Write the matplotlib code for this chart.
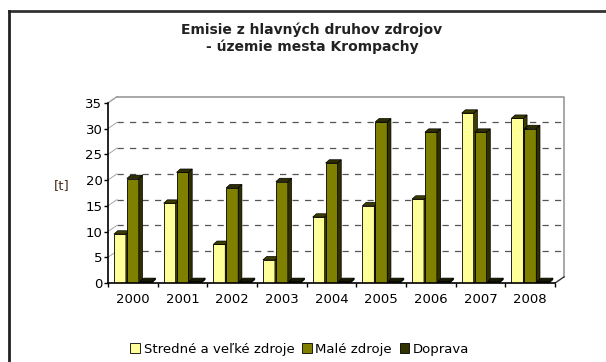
import numpy as np
import matplotlib
matplotlib.use('Agg')
import matplotlib.pyplot as plt
from matplotlib.patches import Polygon, Patch
from matplotlib.lines import Line2D

years = ['2000', '2001', '2002', '2003', '2004', '2005', '2006', '2007', '2008']
stredne = [9.5, 15.5, 7.5, 4.5, 12.8, 15.0, 16.3, 33.0, 32.0]
male = [20.3, 21.5, 18.5, 19.7, 23.3, 31.3, 29.3, 29.3, 30.0]
doprava = [0.3, 0.3, 0.3, 0.3, 0.3, 0.3, 0.3, 0.3, 0.3]

series = [
    ('Stredné a veľké zdroje', stredne, '#ffff99', '#3d3d00'),
    ('Malé zdroje', male, '#808000', '#2e2e00'),
    ('Doprava', doprava, '#333300', '#1a1a00'),
]

W, H = 606, 362
fig = plt.figure(figsize=(W / 100, H / 100), dpi=100)

# axes placed in pixel terms: x axis line at 108px, y=0 at 283px
ax_left, ax_right = 108, 575
ax_bottom, ax_top = 283, 90
ax = fig.add_axes([ax_left / W, 1 - ax_bottom / H,
                   (ax_right - ax_left) / W, (ax_bottom - ax_top) / H])
ax.set_xlim(-0.5, 8.9)
ax.set_ylim(0, 37.5)
ax.patch.set_visible(False)

# depth of back wall and of the bars (data units)
wdx, wdy = 0.18, 1.2
bdx, bdy = 0.075, 0.65

n = len(years)
x = np.arange(n)

# back wall
ax.plot([-0.5 + wdx, n - 0.5 + wdx, n - 0.5 + wdx],
        [35 + wdy, 35 + wdy, wdy], color='#9a9a9a', lw=1.2, zorder=1)
ax.plot([-0.5, -0.5 + wdx], [35, 35 + wdy], color='#9a9a9a', lw=1.0, zorder=1)
ax.plot([n - 0.5, n - 0.5 + wdx], [0, wdy], color='#333333', lw=1.0, zorder=1)
for v in range(5, 35, 5):
    ax.plot([-0.5 + wdx, n - 0.5 + wdx], [v + wdy, v + wdy], color='#555555',
            lw=0.9, ls=(0, (5, 5)), zorder=1)
    ax.plot([-0.5, -0.5 + wdx], [v, v + wdy], color='#999999', lw=0.6, zorder=1)

offsets = [-0.26, 0.0, 0.26]
bw = 0.24
for (label, vals, front, dark), off in zip(series, offsets):
    xs = x + off
    ax.bar(xs, vals, width=bw, color=front, edgecolor='black', lw=0.6, zorder=3)
    for xi, v in zip(xs, vals):
        x0, x1 = xi - bw / 2, xi + bw / 2
        side = Polygon([(x1, 0), (x1 + bdx, bdy), (x1 + bdx, v + bdy), (x1, v)],
                       closed=True, facecolor=dark, edgecolor='black', lw=0.5, zorder=3)
        top = Polygon([(x0, v), (x0 + bdx, v + bdy), (x1 + bdx, v + bdy), (x1, v)],
                      closed=True, facecolor=dark, edgecolor='black', lw=0.5, zorder=3)
        ax.add_patch(side)
        ax.add_patch(top)

for s in ['top', 'right']:
    ax.spines[s].set_visible(False)
ax.spines['left'].set_bounds(0, 35)
ax.spines['bottom'].set_bounds(-0.5, n - 0.5)
ax.spines['left'].set_linewidth(1.2)
ax.spines['bottom'].set_linewidth(1.2)
ax.spines['left'].set_zorder(5)
ax.spines['bottom'].set_zorder(5)

ax.set_yticks(range(0, 36, 5))
ax.tick_params(axis='y', length=3, width=1, labelsize=9.5, pad=1)
ax.set_xticks(np.arange(-0.5, n, 1.0))
ax.set_xticklabels([])
ax.set_xticks(x, minor=True)
ax.set_xticklabels(years, minor=True)
ax.tick_params(axis='x', which='major', length=3, width=1, direction='out')
ax.tick_params(axis='x', which='minor', length=0, labelsize=9.5, pad=7)

fig.text(62 / W, 1 - 186 / H, '[t]', fontsize=9.5, color='#4a3020',
         ha='center', va='center')

fig.text(312 / W, 1 - 30 / H, 'Emisie z hlavných druhov zdrojov',
         fontsize=10, fontweight='bold', ha='center', va='center', color='#222222')
fig.text(312 / W, 1 - 47 / H, '- územie mesta Krompachy',
         fontsize=10, fontweight='bold', ha='center', va='center', color='#222222')

handles = [Patch(facecolor=c, edgecolor='black', lw=0.6) for _, _, c, _ in series]
fig.legend(handles, [s[0] for s in series], loc='center', ncol=3,
           bbox_to_anchor=(300 / W, 1 - 349 / H), frameon=False, fontsize=9.5,
           handlelength=0.7, handleheight=0.7, handletextpad=0.3, columnspacing=0.6)

# outer frame
fig.add_artist(Line2D([9 / W, 1], [1 - 11 / H, 1 - 11 / H], color='#333333', lw=2))
fig.add_artist(Line2D([9 / W, 9 / W], [0, 1 - 11 / H], color='#222222', lw=2))

fig.savefig('out.png', dpi=100)
